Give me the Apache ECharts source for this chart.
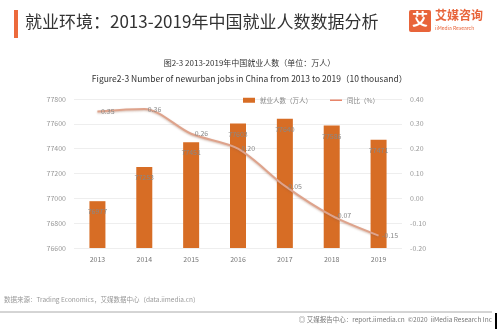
<!DOCTYPE html>
<html><head><meta charset="utf-8">
<script src="https://cdn.jsdelivr.net/npm/echarts@6/dist/echarts.min.js"></script>
<style>html,body{margin:0;padding:0;background:#fff}#c{width:499px;height:330px}</style>
</head><body><div id="c"></div>
<script>
const categories = ['2013','2014','2015','2016','2017','2018','2019'];
const employed = [76977, 77253, 77451, 77603, 77640, 77586, 77471];
const growth = [0.35, 0.36, 0.26, 0.20, 0.05, -0.07, -0.15];
const leftTicks = {min: 76600, max: 77800, interval: 200};
const rightTicks = {min: -0.2, max: 0.4, interval: 0.1};

const chart = echarts.init(document.getElementById('c'), null, {renderer: 'canvas'});
const font = '"Noto Sans CJK SC", "Noto Sans", sans-serif';
chart.setOption({
  backgroundColor: '#fff',
  textStyle: {fontFamily: font},
  animation: false,
  graphic: [
    {type: 'rect', shape: {x: 14, y: 10, width: 4, height: 28}, style: {fill: '#ec6a3c'}},
    {type: 'text', left: 25, top: 13, style: {text: '就业环境：2013-2019年中国就业人数数据分析', fill: '#333', font: '17px ' + font}},
    {type: 'rect', shape: {x: 409, y: 10, width: 22, height: 22, r: 2}, style: {fill: '#e8643a'}},
    {type: 'text', left: 412, top: 11, style: {text: '艾', fill: '#fff', font: 'bold 16px ' + font}},
    {type: 'text', left: 435, top: 9, style: {text: '艾媒咨询', fill: '#e8643a', font: 'bold 12px ' + font}},
    {type: 'text', left: 435, top: 26, style: {text: 'iiMedia Research', fill: '#e8643a', font: '5px ' + font}},
    {type: 'text', left: 4, top: 296, style: {text: '数据来源：Trading Economics，艾媒数据中心（data.iimedia.cn）', fill: '#999', font: '6.5px ' + font}},
    {type: 'line', shape: {x1: 0, y1: 312, x2: 492, y2: 312}, style: {stroke: '#aaa', lineWidth: 1}},
    {type: 'text', right: 7, top: 316, style: {text: '◎ 艾媒报告中心：report.iimedia.cn  ©2020  iiMedia Research Inc', fill: '#777', font: '6.5px ' + font}},
    {type: 'rect', shape: {x: 495, y: 313, width: 2, height: 16}, style: {fill: '#000'}}
  ],
  title: [
    {text: '图2-3 2013-2019年中国就业人数（单位：万人）', left: 'center', top: 54, textStyle: {fontSize: 8, fontWeight: 'normal', color: '#333', fontFamily: font}},
    {text: 'Figure2-3 Number of newurban jobs in China from 2013 to 2019（10 thousand）', left: 'center', top: 70, textStyle: {fontSize: 8.5, fontWeight: 'normal', color: '#333', fontFamily: font}}
  ],
  legend: {
    top: 92, left: 238, itemWidth: 12, itemHeight: 5, itemGap: 18,
    textStyle: {fontSize: 6.5, color: '#888'},
    data: [
      {name: '就业人数（万人）', icon: 'rect'},
      {name: '同比（%）', icon: 'path://M0,0L12,0L12,1.5L0,1.5Z', itemStyle: {color: '#e8856a', opacity: 1}}
    ]
  },
  grid: {left: 74, right: 97, top: 99, bottom: 82},
  xAxis: {
    type: 'category', data: categories,
    axisLine: {show: false}, axisTick: {show: false},
    axisLabel: {fontSize: 7, color: '#777', margin: 8}
  },
  yAxis: [
    {type: 'value', min: leftTicks.min, max: leftTicks.max, interval: leftTicks.interval,
     axisLine: {show: false}, axisTick: {show: false},
     axisLabel: {fontSize: 7, color: '#999', margin: 8, formatter: v => String(v)},
     splitLine: {lineStyle: {color: '#eee'}}},
    {type: 'value', min: rightTicks.min, max: rightTicks.max, interval: rightTicks.interval,
     axisLine: {show: false}, axisTick: {show: false},
     axisLabel: {fontSize: 7, color: '#999', margin: 8, formatter: v => v.toFixed(2)},
     splitLine: {show: false}}
  ],
  series: [
    {name: '就业人数（万人）', type: 'bar', data: employed, barWidth: 16,
     itemStyle: {color: '#d76d25'},
     label: {show: true, position: 'insideTop', offset: [0, 2], fontSize: 7, color: '#888'}},
    {name: '同比（%）', type: 'line', yAxisIndex: 1, data: growth, smooth: 0.3,
     symbol: 'circle', symbolSize: 1, showSymbol: true,
     lineStyle: {color: '#dea38c', width: 2, shadowColor: 'rgba(150,90,60,0.4)', shadowBlur: 2, shadowOffsetY: 1},
     itemStyle: {color: '#dea38c', opacity: 0},
     label: {show: true, position: 'right', distance: 3, fontSize: 7, color: '#888', opacity: 1, formatter: p => p.value.toFixed(2)}}
  ]
});
</script></body></html>
